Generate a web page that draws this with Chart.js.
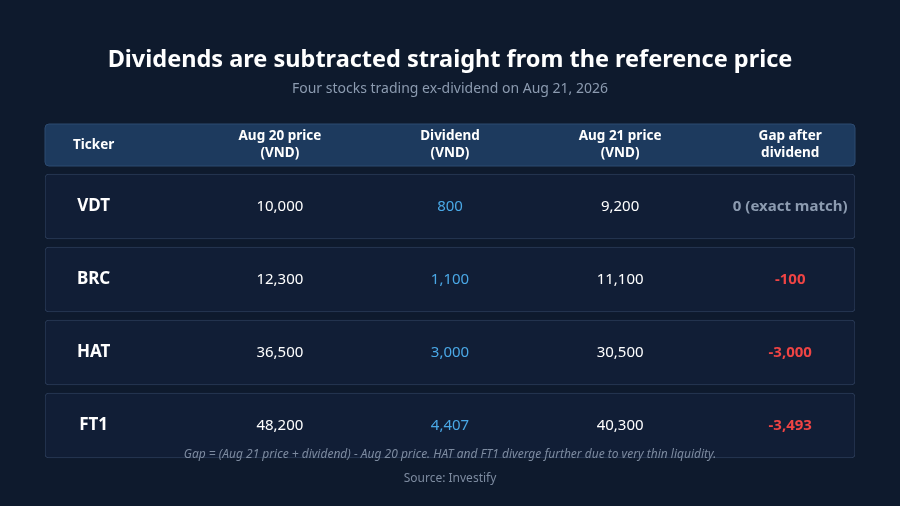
<!DOCTYPE html>
<html>
<head>
<meta charset="utf-8">
<script src="https://cdn.jsdelivr.net/npm/chart.js@4"></script>
<style>
  html, body { margin: 0; padding: 0; background: #0e1a2d; }
  #wrap { width: 900px; height: 506px; position: relative; }
</style>
</head>
<body>
<div id="wrap"><canvas id="tableChart"></canvas></div>
<script>
const tickers = ["VDT", "BRC", "HAT", "FT1"];
const aug20Price = [10000, 12300, 36500, 48200];
const dividend = [800, 1100, 3000, 4407];
const aug21Price = [9200, 11100, 30500, 40300];
const gapAfter = [0, -100, -3000, -3493];
const headers = [["Ticker"], ["Aug 20 price", "(VND)"], ["Dividend", "(VND)"], ["Aug 21 price", "(VND)"], ["Gap after", "dividend"]];

const colX = [6, 29, 50, 71, 92];
const FONT = "'Noto Sans', 'Open Sans', sans-serif";
const fmt = (v) => v.toLocaleString("en-US");

const tablePlugin = {
    id: "tableText",
    beforeDatasetsDraw(chart) {
        const ctx = chart.ctx;
        const x = chart.scales.x;
        // header band
        ctx.save();
        ctx.fillStyle = "#1d3a5e";
        ctx.strokeStyle = "#2c4a70";
        ctx.beginPath();
        ctx.roundRect(x.left, 124, x.right - x.left, 42, 4);
        ctx.fill();
        ctx.stroke();
        ctx.restore();
    },
    afterDatasetsDraw(chart) {
        const ctx = chart.ctx;
        const x = chart.scales.x, y = chart.scales.y;
        ctx.save();
        ctx.textAlign = "center";
        ctx.textBaseline = "middle";

        ctx.fillStyle = "#ffffff";
        ctx.font = "bold 23.5px " + FONT;
        ctx.fillText("Dividends are subtracted straight from the reference price", 450, 60);
        ctx.fillStyle = "#8c9bb0";
        ctx.font = "14px " + FONT;
        ctx.fillText("Four stocks trading ex-dividend on Aug 21, 2026", 450, 89);

        ctx.fillStyle = "#ffffff";
        ctx.font = "bold 13.5px " + FONT;
        headers.forEach((lines, c) => {
            const cx = x.getPixelForValue(colX[c]);
            if (lines.length === 1) ctx.fillText(lines[0], cx, 145);
            else { ctx.fillText(lines[0], cx, 136); ctx.fillText(lines[1], cx, 153); }
        });

        tickers.forEach((t, i) => {
            const cy = y.getPixelForValue(i);
            ctx.fillStyle = "#ffffff";
            ctx.font = "bold 17px " + FONT;
            ctx.fillText(t, x.getPixelForValue(colX[0]), cy);
            ctx.font = "15px " + FONT;
            ctx.fillText(fmt(aug20Price[i]), x.getPixelForValue(colX[1]), cy);
            ctx.fillStyle = "#4aa8e6";
            ctx.fillText(fmt(dividend[i]), x.getPixelForValue(colX[2]), cy);
            ctx.fillStyle = "#ffffff";
            ctx.fillText(fmt(aug21Price[i]), x.getPixelForValue(colX[3]), cy);
            ctx.font = "bold 15px " + FONT;
            if (gapAfter[i] === 0) {
                ctx.fillStyle = "#8c9bb0";
                ctx.fillText("0 (exact match)", x.getPixelForValue(colX[4]), cy);
            } else {
                ctx.fillStyle = "#ef4444";
                ctx.fillText(fmt(gapAfter[i]), x.getPixelForValue(colX[4]), cy);
            }
        });

        ctx.fillStyle = "#7d8ba0";
        ctx.font = "italic 12px " + FONT;
        ctx.fillText("Gap = (Aug 21 price + dividend) - Aug 20 price. HAT and FT1 diverge further due to very thin liquidity.", 450, 455);
        ctx.font = "12px " + FONT;
        ctx.fillText("Source: Investify", 450, 479);
        ctx.restore();
    }
};

new Chart(document.getElementById("tableChart"), {
    type: "bar",
    data: {
        labels: tickers,
        datasets: [{
            data: tickers.map(() => [0, 100]),
            backgroundColor: "#111e36",
            borderColor: "#2a3b57",
            borderWidth: 1,
            borderSkipped: false,
            borderRadius: 4,
            barThickness: 65
        }]
    },
    options: {
        indexAxis: "y",
        responsive: true,
        maintainAspectRatio: false,
        animation: false,
        layout: { padding: { top: 170, bottom: 44, left: 45, right: 45 } },
        scales: {
            x: { type: "linear", min: 0, max: 100, display: false },
            y: { type: "category", display: false }
        },
        plugins: { legend: { display: false }, tooltip: { enabled: false }, title: { display: false } }
    },
    plugins: [tablePlugin]
});
</script>
</body>
</html>
